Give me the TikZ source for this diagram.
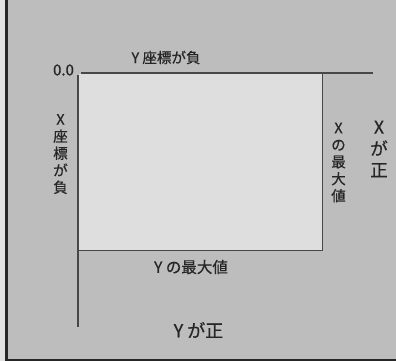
\documentclass[tikz,border=0pt]{standalone}
\usepackage{fontspec}
\setmainfont{Noto Sans CJK JP}[FakeBold=0.6]
\definecolor{bggray}{HTML}{BDBDBD}
\definecolor{inner}{HTML}{DEDEDE}
\definecolor{edge}{HTML}{E2E2E2}
\definecolor{ink}{HTML}{262626}
\begin{document}
\begin{tikzpicture}[x=1pt,y=-1pt,
  lbl/.style={inner sep=0pt,text=ink,align=center},
  axis/.style={draw=ink!85,line width=1.1pt}]
\useasboundingbox (0,0) rectangle (396,361);
\fill[edge] (0,0) rectangle (396,361);
\fill[bggray] (6,0) rectangle (396,361);
\fill[ink] (5,0) rectangle (8,361);
\fill[ink] (5,359) rectangle (396,361);
% inner area
\fill[inner] (79,74) rectangle (322,250);
\coordinate (tl) at (81,73);
\coordinate (tr) at (373,73);
\coordinate (lt) at (78,75);
\coordinate (lb) at (78,327);
\coordinate (rt) at (322,73);
\coordinate (rb) at (322,250);
\coordinate (bl) at (79,250);
\draw[axis] (tl) -- (tr);
\draw[axis] (lt) -- (lb);
\draw[draw=ink!85,line width=0.9pt] (rt) -- (rb) -- (bl);
\node[lbl,font=\fontsize{15}{17}\selectfont] (zero) at (63.5,70) {0.0};
\node[lbl,font=\fontsize{14.5}{17}\selectfont] (ytop) at (166,57.5) {Y 座標が負};
\node[lbl,font=\fontsize{14.5}{17}\selectfont] (xneg) at (60.5,154) {X\\座\\標\\が\\負};
\node[lbl,font=\fontsize{14.5}{17}\selectfont] (xmax) at (338.5,162.5) {X\\の\\最\\大\\値};
\node[lbl,font=\fontsize{17.5}{21.5}\selectfont] (xpos) at (379,149) {X\\が\\正};
\node[lbl,font=\fontsize{15.5}{19}\selectfont] (ymax) at (191,267) {Y の最大値};
\node[lbl,font=\fontsize{18}{21}\selectfont] (ypos) at (198.5,330) {Y が正};
\end{tikzpicture}
\end{document}
